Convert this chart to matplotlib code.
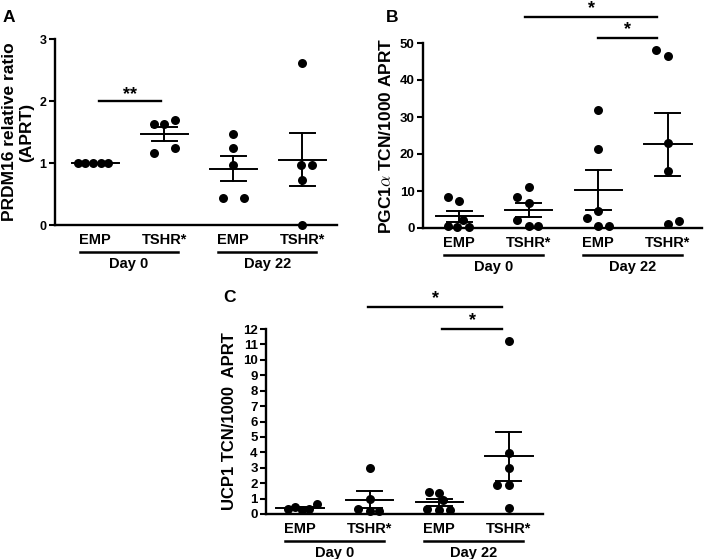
import numpy as np
import matplotlib
matplotlib.use("Agg")
import matplotlib.pyplot as plt
import matplotlib.transforms as mtransforms

plt.rcParams['font.family'] = ['Liberation Sans', 'DejaVu Sans']
plt.rcParams['font.weight'] = 'bold'
plt.rcParams['mathtext.fontset'] = 'cm'

groups = ["EMP", "TSHR*", "EMP", "TSHR*"]
days = ["Day 0", "Day 22"]

# panel A: PRDM16 relative ratio
prdm16 = [
    [1.0, 1.0, 1.0, 1.0, 1.0],
    [1.63, 1.63, 1.69, 1.16, 1.24],
    [1.47, 1.24, 0.96, 0.44, 0.44],
    [2.62, 0.96, 0.96, 0.72, 0.0],
]
# panel B: PGC1a TCN/1000 APRT
pgc1a = [
    [8.5, 7.3, 2.1, 0.5, 0.4, 0.4],
    [11.1, 8.5, 6.7, 2.2, 0.5, 0.5],
    [32.0, 21.3, 4.5, 2.7, 0.6, 0.6],
    [48.0, 46.4, 22.9, 15.5, 1.2, 1.9],
]
# panel C: UCP1 TCN/1000 APRT
ucp1 = [
    [0.32, 0.48, 0.26, 0.32, 0.65],
    [3.0, 0.95, 0.35, 0.2, 0.2],
    [1.41, 1.34, 0.91, 0.32, 0.26, 0.26],
    [11.25, 3.95, 3.0, 1.9, 1.9, 0.4],
]

# horizontal spread of the dots (layout only)
spread_a = [[-0.25, -0.14, -0.03, 0.08, 0.19], [-0.15, 0, 0.15, -0.15, 0.15],
            [0, 0, 0, -0.15, 0.15], [0, -0.02, 0.14, 0, 0]]
spread_b = [[-0.16, 0, 0.06, -0.16, -0.03, 0.14], [0, -0.17, 0, -0.17, 0, 0.14],
            [0, 0, 0, -0.17, 0, 0.15], [-0.17, 0, 0, 0, 0, 0.16]]
spread_c = [[-0.17, -0.07, 0.03, 0.13, 0.24], [0, 0, -0.17, 0, 0.13],
            [-0.15, 0, 0.06, -0.17, 0, 0.16], [0, 0, 0, -0.17, 0, 0]]

W, H = 708, 559
fig = plt.figure(figsize=(W / 100, H / 100), dpi=100)


def make_ax(left, right, top, bottom):
    return fig.add_axes([left / W, 1 - bottom / H, (right - left) / W, (bottom - top) / H])


def panel(ax, data, spread, ylim, yticks, ylabel, xlim, tick_fs, label_fs):
    pos = np.arange(len(data))
    for i, vals in enumerate(data):
        vals = np.array(vals)
        m = vals.mean()
        sem = vals.std(ddof=1) / np.sqrt(len(vals))
        ax.scatter(pos[i] + np.array(spread[i]), vals, s=42, color='black',
                   zorder=3, clip_on=False, linewidths=0)
        ax.plot([pos[i] - 0.34, pos[i] + 0.34], [m, m], color='black', lw=1.4)
        if sem > 0:
            ax.plot([pos[i], pos[i]], [m - sem, m + sem], color='black', lw=1.4)
            for v in (m - sem, m + sem):
                ax.plot([pos[i] - 0.18, pos[i] + 0.18], [v, v], color='black', lw=1.4)
    ax.set_xlim(*xlim)
    ax.set_ylim(*ylim)
    ax.set_yticks(yticks)
    ax.set_xticks([])
    ax.spines['top'].set_visible(False)
    ax.spines['right'].set_visible(False)
    ax.spines['left'].set_linewidth(1.7)
    ax.spines['bottom'].set_linewidth(1.7)
    ax.tick_params(axis='y', length=4, width=1.5, labelsize=tick_fs, pad=2)
    for t in ax.get_yticklabels():
        t.set_fontweight('bold')
    ax.set_ylabel(ylabel, fontsize=label_fs, fontweight='bold', labelpad=4)
    # group labels below the axis
    trans = mtransforms.blended_transform_factory(ax.transData, ax.transAxes)
    ah = ax.get_position().height * H
    for i, g in enumerate(groups):
        ax.text(pos[i], -15 / ah, g, transform=trans, ha='center', va='center',
                fontsize=10.5, fontweight='bold')
    for k, d in enumerate(days):
        x0 = pos[2 * k] - 0.22
        x1 = pos[2 * k + 1] + 0.2
        ax.plot([x0, x1], [-27 / ah, -27 / ah], transform=trans, color='black',
                lw=1.8, clip_on=False)
        ax.text((x0 + x1) / 2, -39 / ah, d, transform=trans, ha='center',
                va='center', fontsize=10.5, fontweight='bold')


def sig(ax, x0, x1, y, label, dy):
    ax.plot([x0, x1], [y, y], color='black', lw=1.7, clip_on=False)
    ax.text((x0 + x1) / 2, y + dy, label, ha='center', va='center',
            fontsize=13, fontweight='bold', clip_on=False)


axA = make_ax(55, 337, 39, 225)
panel(axA, prdm16, spread_a, (0, 3), [0, 1, 2, 3],
      "PRDM16 relative ratio\n(APRT)", (-0.58, 3.5), 9, 12.5)
sig(axA, 0.05, 0.95, 2.0, "**", 0.1)

axB = make_ax(423, 702, 43, 228)
panel(axB, pgc1a, spread_b, (0, 50), [0, 10, 20, 30, 40, 50],
      r"PGC1$\alpha$ TCN/1000 APRT", (-0.52, 3.49), 9.5, 12.5)
sig(axB, 0.95, 2.85, 57.0, "*", 2.2)
sig(axB, 2.0, 2.85, 51.4, "*", 2.2)

axC = make_ax(266, 543, 329, 514)
panel(axC, ucp1, spread_c, (0, 12), list(range(13)),
      "UCP1 TCN/1000  APRT", (-0.49, 3.49), 9.5, 12)
sig(axC, 0.98, 2.9, 13.45, "*", 0.55)
sig(axC, 2.04, 2.9, 12.0, "*", 0.55)

fig.text(9 / W, 1 - 17 / H, "A", fontsize=12.5, fontweight='bold', ha='center', va='center')
fig.text(392 / W, 1 - 17 / H, "B", fontsize=12.5, fontweight='bold', ha='center', va='center')
fig.text(230 / W, 1 - 297 / H, "C", fontsize=12.5, fontweight='bold', ha='center', va='center')

fig.savefig("out.png", dpi=100)
